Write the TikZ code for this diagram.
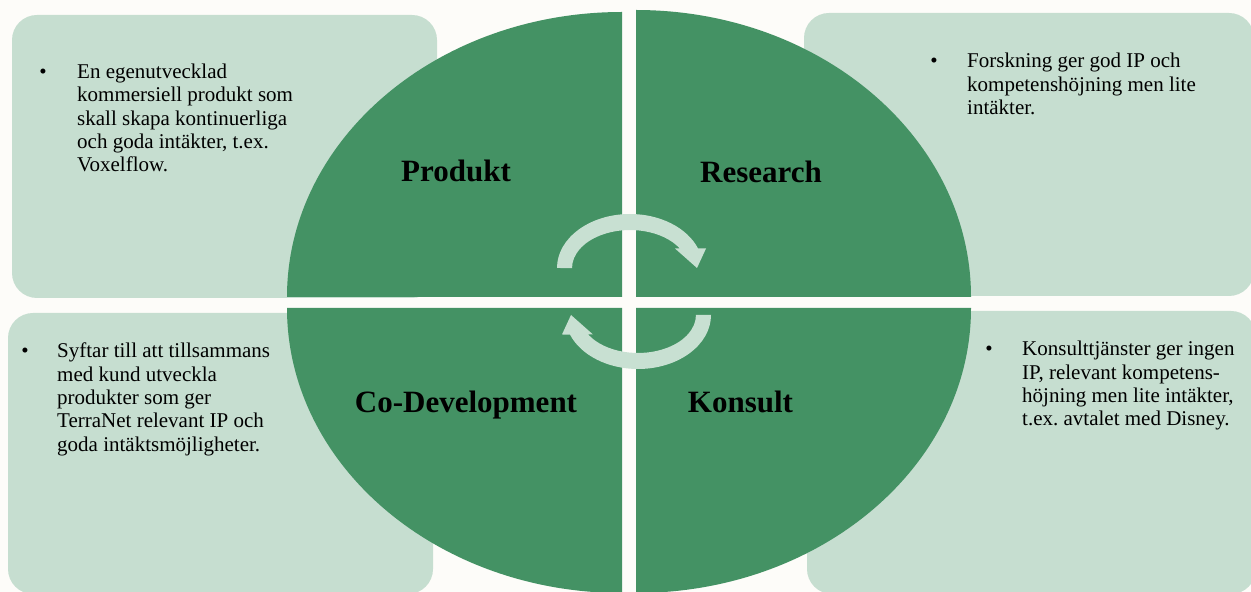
\documentclass[tikz,border=0pt]{standalone}
\usepackage{fontspec}
\setmainfont{Liberation Serif}
\frenchspacing
\definecolor{pagebg}{RGB}{253,252,249}
\definecolor{boxgreen}{RGB}{198,222,208}
\definecolor{quadgreen}{RGB}{68,146,100}
\definecolor{arrowgreen}{RGB}{200,224,210}
\begin{document}
\begin{tikzpicture}[x=1pt,y=1pt,
  infobox/.style={fill=boxgreen, rounded corners=25pt},
  quadrant/.style={fill=quadgreen},
  cyclearrow/.style={fill=arrowgreen},
  quadlabel/.style={anchor=base, inner sep=0, font=\fontsize{31}{35}\selectfont\bfseries},
  bodytext/.style={anchor=base west, inner sep=0, font=\fontsize{21}{23.3}\selectfont},
  bulletmark/.style={anchor=base, inner sep=0, font=\fontsize{21}{23.3}\selectfont}]

% canvas
\useasboundingbox (0,0) rectangle (1251,592);
\fill[pagebg] (0,0) rectangle (1251,592);

% four information panels
\fill[infobox] (12,294) rectangle (437,577);
\fill[infobox] (804,296) rectangle (1254,579);
\fill[infobox] (8,-2) rectangle (433,279);
\fill[infobox] (807,-2) rectangle (1256,281);

% the four quadrants of the split ellipse
\fill[quadrant] (622,295) -- (287,295)
  arc[start angle=180, end angle=90, x radius=335, y radius=285] -- cycle;
\fill[quadrant] (636,295) -- (636,582)
  arc[start angle=90, end angle=0, x radius=335, y radius=287] -- cycle;
\fill[quadrant] (622,284) -- (287,284)
  arc[start angle=180, end angle=270, x radius=335, y radius=285] -- cycle;
\fill[quadrant] (636,284) -- (636,-1)
  arc[start angle=270, end angle=360, x radius=335, y radius=285] -- cycle;

% circular arrows in the middle
\fill[cyclearrow] (557,324)
  arc[start angle=180, end angle=21.2, x radius=73, y radius=54]
  -- (706,343.5) -- (697,324) -- (675,343.5) -- (679.8,343.5)
  arc[start angle=30.9, end angle=180, x radius=58, y radius=38] -- cycle;
\begin{scope}[rotate around={180:(634,300.5)}]
\fill[cyclearrow] (557,324)
  arc[start angle=180, end angle=21.2, x radius=73, y radius=54]
  -- (706,343.5) -- (697,324) -- (675,343.5) -- (679.8,343.5)
  arc[start angle=30.9, end angle=180, x radius=58, y radius=38] -- cycle;
\end{scope}

% quadrant titles
\node[quadlabel] (produkt) at (456,410) {Produkt};
\node[quadlabel] (research) at (761,409) {Research};
\node[quadlabel] (codev) at (466,179) {Co-Development};
\node[quadlabel] (konsult) at (740.5,179) {Konsult};

% panel texts
\node[bulletmark] (tlbullet) at (43,513.5) {•};
\node[bodytext] (tltext) at (77,513.5) {\parbox[t]{340pt}{\raggedright
  En egenutvecklad\\kommersiell produkt som\\skall skapa kontinuerliga\\och goda intäkter, t.ex.\\Voxelflow.}};

\node[bulletmark] (trbullet) at (934,524) {•};
\node[bodytext] (trtext) at (967,524) {\parbox[t]{280pt}{\raggedright
  Forskning ger god IP och\\kompetenshöjning men lite\\intäkter.}};

\node[bulletmark] (blbullet) at (25,234) {•};
\node[bodytext] (bltext) at (57,234) {\parbox[t]{340pt}{\raggedright
  Syftar till att tillsammans\\med kund utveckla\\produkter som ger\\TerraNet relevant IP och\\goda intäktsmöjligheter.}};

\node[bulletmark] (brbullet) at (989,236) {•};
\node[bodytext] (brtext) at (1022,236) {\parbox[t]{228pt}{\raggedright
  Konsulttjänster ger ingen\\IP, relevant kompetens-\\höjning men lite intäkter,\\t.ex. avtalet med Disney.}};
\end{tikzpicture}
\end{document}
